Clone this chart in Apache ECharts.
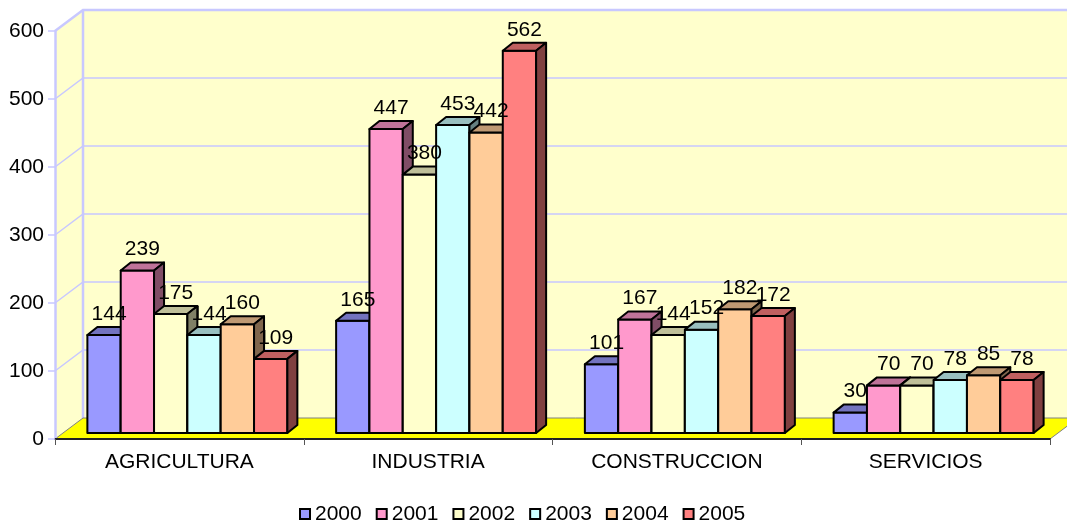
<!DOCTYPE html>
<html>
<head>
<meta charset="utf-8">
<script src="https://cdn.jsdelivr.net/npm/echarts@6/dist/echarts.min.js"></script>
<style>
  html, body { margin: 0; padding: 0; background: #fff; }
  #chart { width: 1067px; height: 522px; }
</style>
</head>
<body>
<div id="chart"></div>
<script>
const sectors = ['AGRICULTURA', 'INDUSTRIA', 'CONSTRUCCION', 'SERVICIOS'];
const years = ['2000', '2001', '2002', '2003', '2004', '2005'];
const v2000 = [144, 165, 101, 30];
const v2001 = [239, 447, 167, 70];
const v2002 = [175, 380, 144, 70];
const v2003 = [144, 453, 152, 78];
const v2004 = [160, 442, 182, 85];
const v2005 = [109, 562, 172, 78];
const yMax = 600;
const yStep = 100;

const values = [v2000, v2001, v2002, v2003, v2004, v2005];
const colors = ['#9999FF', '#FF99CC', '#FFFFCC', '#CCFFFF', '#FFCC99', '#FF8080'];

// depth of the walls / floor and of each bar (pseudo 3d like the old excel chart)
const WALL = [28, -21];
const BAR_OFF = [8, -6];
const BAR_D = [10, -8];
const FONT = 'Liberation Sans, Arial, sans-serif';
const FS = 21;
const EDGE = '#C8C8FF';

function shade(hex, k) {
  const n = parseInt(hex.slice(1), 16);
  const r = Math.round(((n >> 16) & 255) * k);
  const g = Math.round(((n >> 8) & 255) * k);
  const b = Math.round((n & 255) * k);
  return 'rgb(' + r + ',' + g + ',' + b + ')';
}

function renderWalls(params, api) {
  const cs = params.coordSys;
  const x0 = cs.x, x1 = cs.x + cs.width + 60;
  const yBot = api.coord([0, 0])[1];
  const yTop = api.coord([0, yMax])[1];
  const dx = WALL[0], dy = WALL[1];
  const kids = [];
  // back wall
  kids.push({ type: 'polygon', shape: { points: [[x0 + dx, yTop + dy], [x1, yTop + dy], [x1, yBot + dy], [x0 + dx, yBot + dy]] },
    style: { fill: '#FFFFCC' } });
  // left wall
  kids.push({ type: 'polygon', shape: { points: [[x0, yBot], [x0 + dx, yBot + dy], [x0 + dx, yTop + dy], [x0, yTop]] },
    style: { fill: '#FFFFCC' } });
  // gridlines
  for (let v = yStep; v < yMax; v += yStep) {
    const y = api.coord([0, v])[1];
    kids.push({ type: 'polyline', shape: { points: [[x0, y], [x0 + dx, y + dy], [x1, y + dy]] },
      style: { stroke: EDGE, lineWidth: 1.5, fill: null } });
  }
  // wall edges
  kids.push({ type: 'polyline', shape: { points: [[x0, yTop], [x0 + dx, yTop + dy], [x1, yTop + dy]] },
    style: { stroke: EDGE, lineWidth: 2.5, fill: null } });
  kids.push({ type: 'line', shape: { x1: x0 + dx, y1: yTop + dy, x2: x0 + dx, y2: yBot + dy },
    style: { stroke: EDGE, lineWidth: 2.5 } });
  // floor
  kids.push({ type: 'polygon', shape: { points: [[x0, yBot], [cs.x + cs.width, yBot], [cs.x + cs.width + dx, yBot + dy], [x0 + dx, yBot + dy]] },
    style: { fill: '#FFFF00', stroke: '#808080', lineWidth: 1 } });
  return { type: 'group', children: kids };
}

function makeBarRender(idx) {
  return function (params, api) {
    const cat = api.value(0);
    const val = api.value(1);
    const top = api.coord([cat, val]);
    const base = api.coord([cat, 0]);
    const band = api.size([1, 0])[0];
    const w = band * 0.134;
    const left = base[0] - 3 * w + idx * w + BAR_OFF[0];
    const yt = top[1] + BAR_OFF[1];
    const yb = base[1] + BAR_OFF[1];
    const c = colors[idx];
    const line = { stroke: '#000', lineWidth: 2, lineJoin: 'round' };
    return {
      type: 'group',
      children: [
        { type: 'polygon', z2: idx * 3,
          shape: { points: [[left, yb], [left + w, yb], [left + w, yt], [left, yt]] },
          style: Object.assign({ fill: c }, line) },
        { type: 'polygon', z2: idx * 3 + 1,
          shape: { points: [[left, yt], [left + w, yt], [left + w + BAR_D[0], yt + BAR_D[1]], [left + BAR_D[0], yt + BAR_D[1]]] },
          style: Object.assign({ fill: shade(c, 0.75) }, line) },
        { type: 'polygon', z2: idx * 3 + 2,
          shape: { points: [[left + w, yb], [left + w + BAR_D[0], yb + BAR_D[1]], [left + w + BAR_D[0], yt + BAR_D[1]], [left + w, yt]] },
          style: Object.assign({ fill: shade(c, 0.5) }, line) },
        { type: 'text', z2: 100,
          style: { text: String(val), x: left + w / 2 + 5, y: yt - 21, align: 'center', verticalAlign: 'middle',
            fill: '#000', font: FS + 'px ' + FONT } }
      ]
    };
  };
}

const chart = echarts.init(document.getElementById('chart'), null, { renderer: 'canvas' });

const series = [{
  type: 'custom',
  name: 'walls',
  z: 1,
  silent: true,
  data: [[0, 0]],
  renderItem: renderWalls
}];
years.forEach(function (y, i) {
  series.push({
    type: 'custom',
    name: y,
    z: 2,
    itemStyle: { color: colors[i] },
    data: values[i].map(function (v, k) { return [k, v]; }),
    renderItem: makeBarRender(i)
  });
});

chart.setOption({
  animation: false,
  color: colors,
  textStyle: { fontFamily: FONT },
  grid: { left: 55, right: 17, top: 31, bottom: 83 },
  legend: {
    data: years,
    left: 299,
    top: 503,
    padding: 0,
    icon: 'rect',
    itemWidth: 10,
    itemHeight: 10,
    itemGap: 14,
    itemStyle: { borderColor: '#000', borderWidth: 2 },
    textStyle: { fontSize: FS, color: '#000', fontFamily: FONT, lineHeight: 22 }
  },
  xAxis: {
    type: 'category',
    data: sectors,
    z: 10,
    axisLine: { lineStyle: { color: '#222', width: 2 } },
    axisTick: { show: true, length: 6, lineStyle: { color: '#555', width: 1 } },
    axisLabel: { fontSize: FS, color: '#000', margin: 13, fontFamily: FONT },
    splitLine: { show: false }
  },
  yAxis: {
    type: 'value',
    min: 0,
    max: yMax,
    interval: yStep,
    z: 10,
    axisLine: { show: true, lineStyle: { color: EDGE, width: 2.5 } },
    axisTick: { show: true, length: 7, lineStyle: { color: EDGE, width: 1.5 } },
    axisLabel: { fontSize: FS, color: '#000', margin: 11, fontFamily: FONT },
    splitLine: { show: false }
  },
  series: series
});
</script>
</body>
</html>
